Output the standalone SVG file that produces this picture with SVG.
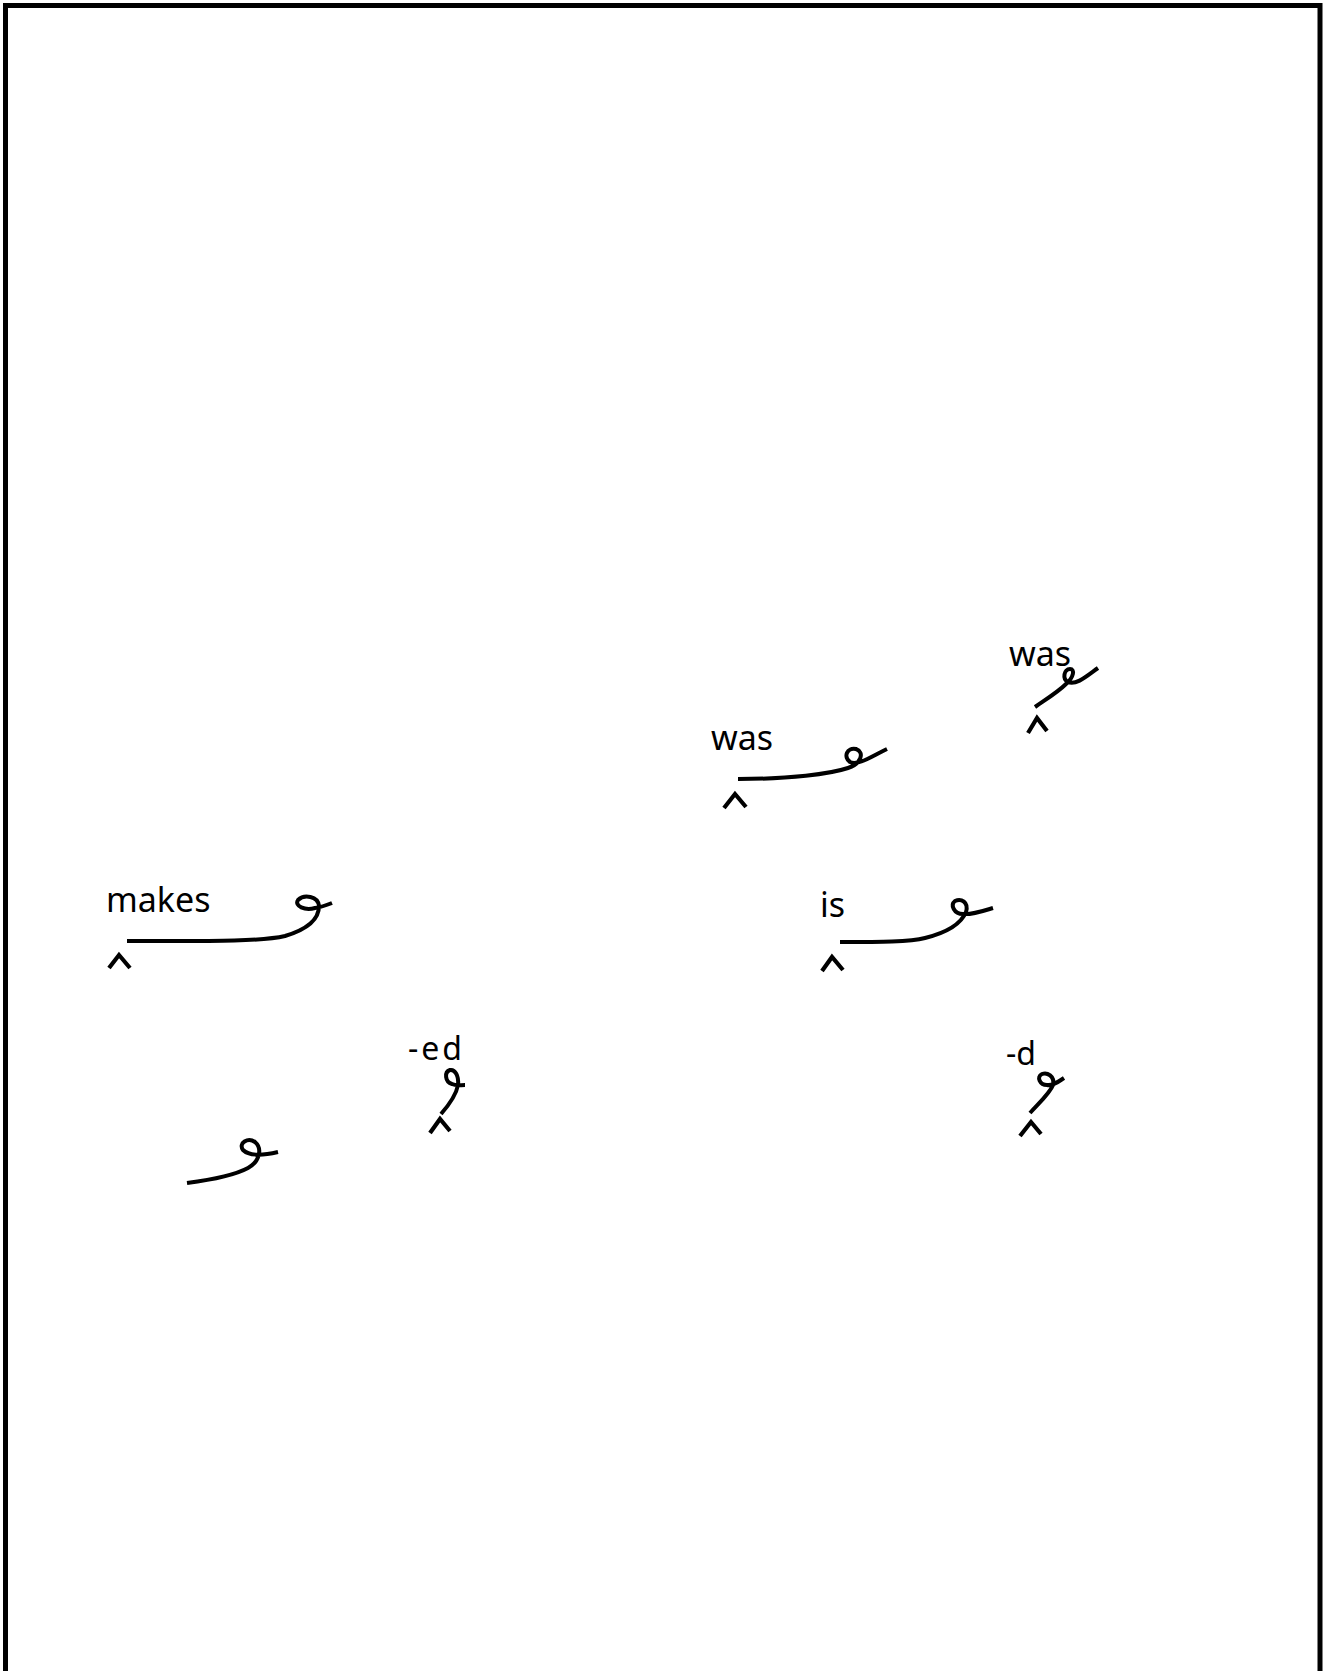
<svg xmlns="http://www.w3.org/2000/svg" width="1329" height="1671" viewBox="0 0 1329 1671">
<style>
.frame{fill:#fff;stroke:#000;stroke-width:5}
.lbl{font-family:"Noto Sans","DejaVu Sans",sans-serif;font-size:34px;fill:#000}
.sm{font-size:32px}
.caret{fill:none;stroke:#000;stroke-width:4.2;stroke-linecap:butt;stroke-linejoin:miter}
.wire{fill:none;stroke:#000;stroke-width:4;stroke-linecap:butt}
</style>
<rect x="0" y="0" width="1329" height="1671" fill="#fff"/>
<rect class="frame" x="5.5" y="5.5" width="1314.5" height="1720"/>
<g id="node-was-upper">
<text class="lbl" x="1009" y="666">was</text>
<polyline class="caret" points="1028,733 1037,718 1047,731"/>
</g>
<g id="node-was-lower">
<text class="lbl" x="711" y="750">was</text>
<polyline class="caret" points="724,808 735,794 746,807"/>
</g>
<g id="node-makes">
<text class="lbl" x="106" y="912">makes</text>
<polyline class="caret" points="109,968 119,955 130,968"/>
</g>
<g id="node-is">
<text class="lbl" x="820" y="917">is</text>
<polyline class="caret" points="822,971 832,957 843,970"/>
</g>
<g id="node-ed">
<text class="lbl sm" x="408" y="1060" letter-spacing="3">-ed</text>
<polyline class="caret" points="430,1133 440,1119 450,1131"/>
</g>
<g id="node-d">
<text class="lbl sm" x="1006" y="1065">-d</text>
<polyline class="caret" points="1020,1136 1031,1122 1041,1134"/>
</g>
<g id="connectors">
<path class="wire" d="M1035,707 C1045,700 1058,692 1066,684 C1074,677 1075,669 1070,669 C1064,669 1062,679 1068,682 C1076,686 1088,675 1098,668"/>
<path class="wire" d="M738,779 C790,779 830,774 848,768 C861,764 865,752 856,749 C847,747 843,757 850,762 C858,766 872,756 887,749"/>
<path class="wire" d="M127,941 C200,941 260,942 285,936 C305,930 319,920 319,906 C318,896 304,894 298,900 C294,906 305,911 315,908 C322,907 327,905 332,903"/>
<path class="wire" d="M840,942 C880,942 910,942 925,938 C945,933 961,924 966,912 C969,902 961,898 955,901 C950,905 954,914 963,914 C972,915 983,911 993,908"/>
<path class="wire" d="M441,1114 C448,1106 456,1096 458,1085 C459,1076 455,1069 450,1070 C444,1072 445,1082 452,1084 C456,1086 460,1085 465,1085"/>
<path class="wire" d="M1030,1113 C1040,1102 1050,1093 1053,1085 C1055,1076 1047,1072 1042,1074 C1036,1077 1040,1085 1047,1085 C1053,1086 1058,1082 1064,1078"/>
<path class="wire" d="M187,1183 C210,1180 235,1175 248,1168 C259,1162 263,1149 255,1142 C248,1137 238,1143 243,1150 C250,1157 265,1155 278,1152"/>
</g>
</svg>
